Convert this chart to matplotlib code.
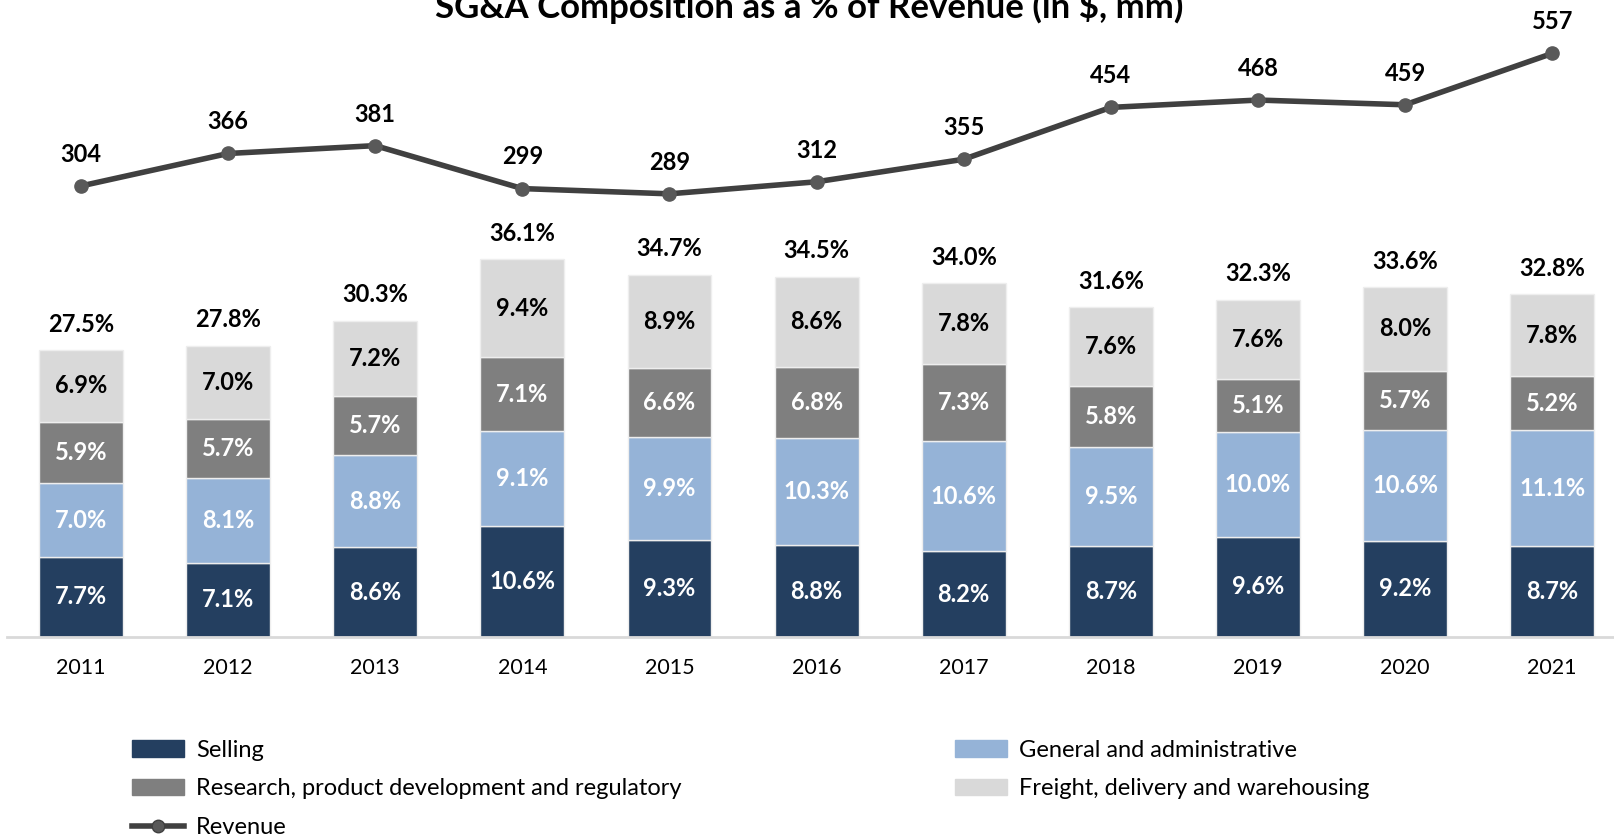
import matplotlib.pyplot as plt
import numpy as np
from matplotlib.lines import Line2D
from matplotlib.patches import Patch

plt.rcParams['font.family'] = ['Lato', 'DejaVu Sans']

years = ["2011", "2012", "2013", "2014", "2015", "2016", "2017", "2018", "2019", "2020", "2021"]
selling = [7.7, 7.1, 8.6, 10.6, 9.3, 8.8, 8.2, 8.7, 9.6, 9.2, 8.7]
gen_admin = [7.0, 8.1, 8.8, 9.1, 9.9, 10.3, 10.6, 9.5, 10.0, 10.6, 11.1]
research = [5.9, 5.7, 5.7, 7.1, 6.6, 6.8, 7.3, 5.8, 5.1, 5.7, 5.2]
freight = [6.9, 7.0, 7.2, 9.4, 8.9, 8.6, 7.8, 7.6, 7.6, 8.0, 7.8]
totals = [27.5, 27.8, 30.3, 36.1, 34.7, 34.5, 34.0, 31.6, 32.3, 33.6, 32.8]
revenue = [304, 366, 381, 299, 289, 312, 355, 454, 468, 459, 557]

c_sell = "#243F60"
c_ga = "#95B3D7"
c_rd = "#7F7F7F"
c_fr = "#D9D9D9"
c_line = "#404040"

fig = plt.figure(figsize=(16.14, 8.36), dpi=100)
ax = fig.add_axes([7 / 1614, 1 - 637 / 836, 1 - 7 / 1614, 637 / 836])

x = np.arange(len(years))
w = 0.57
series = [(selling, c_sell, "white"), (gen_admin, c_ga, "white"),
          (research, c_rd, "white"), (freight, c_fr, "black")]
bottom = np.zeros(len(years))
for vals, col, tcol in series:
    vals = np.array(vals)
    ax.bar(x, vals, w, bottom=bottom, color=col, edgecolor="#EEEEEE", linewidth=1, zorder=2)
    for xi, b, v in zip(x, bottom, vals):
        ax.text(xi, b + v / 2, f"{v:.1f}%", ha="center", va="center",
                color=tcol, fontsize=17, fontweight="bold", zorder=3)
    bottom += vals

for xi, top, t in zip(x, bottom, totals):
    ax.text(xi, top + 1.75, f"{t:.1f}%", ha="center", va="baseline",
            fontsize=17, fontweight="bold")

ax.set_xlim(-0.503, 10.42)
ax.set_ylim(0, 61)
ax.set_xticks(x)
ax.set_xticklabels(years, fontsize=15.5)
ax.tick_params(axis="x", length=0, pad=15)
ax.set_yticks([])
for s in ["top", "right", "left"]:
    ax.spines[s].set_visible(False)
ax.spines["bottom"].set_color("#D9D9D9")
ax.spines["bottom"].set_linewidth(2)

ax2 = ax.twinx()
ax2.plot(x, revenue, color=c_line, linewidth=4, marker="o", markersize=9.5,
         markerfacecolor="#595959", markeredgecolor="#595959", zorder=4)
for xi, r in zip(x, revenue):
    ax2.text(xi, r + 46, str(r), ha="center", va="baseline", fontsize=17, fontweight="bold")
ax2.set_ylim(-557, 659)
ax2.axis("off")

# title sits partly above the top edge, as in the source image
fig.text(809 / 1614, 1 - 18 / 836, "SG&A Composition as a % of Revenue (in $, mm)",
         ha="center", va="baseline", fontsize=25, fontweight="bold")

h1 = [Patch(color=c_sell, label="Selling"),
      Patch(color=c_rd, label="Research, product development and regulatory"),
      Line2D([], [], color=c_line, linewidth=4, marker="o", markersize=9,
             markerfacecolor="#595959", label="Revenue")]
h2 = [Patch(color=c_ga, label="General and administrative"),
      Patch(color=c_fr, label="Freight, delivery and warehousing")]
leg_kw = dict(frameon=False, fontsize=17, handlelength=2.2, handleheight=0.7,
              labelspacing=0.74, handletextpad=0.5, borderaxespad=0, borderpad=0)
fig.legend(handles=h1, loc="upper left", bbox_to_anchor=(132 / 1614, 1 - 740 / 836), **leg_kw)
fig.legend(handles=h2, loc="upper left", bbox_to_anchor=(955 / 1614, 1 - 740 / 836), **leg_kw)

fig.savefig("out.png", dpi=100)
